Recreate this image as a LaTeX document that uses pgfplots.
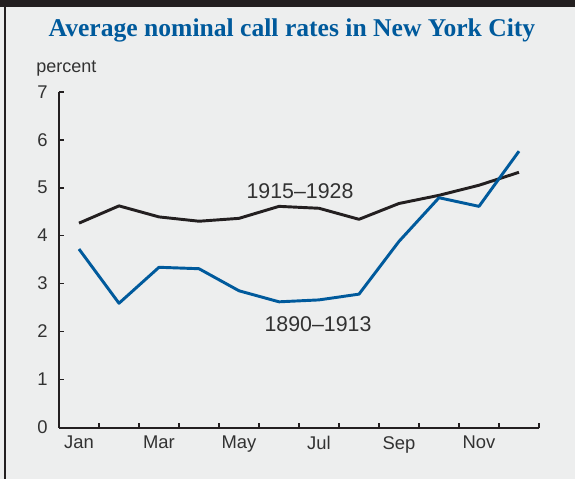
\documentclass[border=0pt]{standalone}
\usepackage{pgfplots}
\pgfplotsset{compat=1.18}
\usepackage{fontspec}
\setmainfont{Liberation Sans}
\newfontfamily\titlefont{Liberation Serif}
\definecolor{bg}{RGB}{237,238,238}
\definecolor{fedblue}{RGB}{0,90,156}
\definecolor{ink}{RGB}{35,31,32}
\definecolor{txt}{RGB}{50,50,50}
\begin{document}
\begin{tikzpicture}[x=1pt,y=1pt]
\fill[bg] (0,0) rectangle (431.25,359.25);
\useasboundingbox (0,0) rectangle (431.25,359.25);
\fill[ink] (0,354.2) rectangle (431.25,359.25);
\fill[ink] (2.8,0) rectangle (4.6,359.25);
\node[font=\titlefont\bfseries\fontsize{19.2}{23}\selectfont, text=fedblue, anchor=base] at (219,331.5) {Average nominal call rates in New York City};
\node[anchor=west, inner sep=0pt, font=\fontsize{13.5}{16}\selectfont, text=txt] at (27,308) {percent};
\begin{axis}[
  at={(44.25pt,38.625pt)}, anchor=south west,
  scale only axis, width=360pt, height=251.85pt,
  xmin=0.5, xmax=12.5, ymin=0, ymax=7,
  axis x line*=bottom, axis y line*=left,
  axis line style={ink, line width=1.5pt, -},
  tick style={ink, line width=1.3pt},
  tick align=inside, major tick length=3.75pt,
  ytick={0,...,7},
  xtick={1.5,2.5,...,12.5}, xticklabels={},
  extra x ticks={1,3,5,7,9,11},
  extra x tick labels={Jan,Mar,May,Jul,Sep,Nov},
  extra x tick style={major tick length=0pt},
  ticklabel style={font=\fontsize{13.8}{16}\selectfont, text=txt},
  yticklabel style={xshift=-5pt},
  xticklabel style={yshift=-3pt},
  /pgf/number format/assume math mode=true,
  clip=false,
]
\addplot[ink, line width=2.2pt, line join=round] coordinates {
(1,4.26) (2,4.62) (3,4.39) (4,4.30) (5,4.36) (6,4.61) (7,4.57) (8,4.34) (9,4.67) (10,4.84) (11,5.05) (12,5.32)};
\addplot[fedblue, line width=2.2pt, line join=round] coordinates {
(1,3.72) (2,2.59) (3,3.34) (4,3.31) (5,2.85) (6,2.62) (7,2.66) (8,2.78) (9,3.88) (10,4.79) (11,4.61) (12,5.76)};
\node[font=\fontsize{16}{19}\selectfont, text=txt] at (axis cs:6.525,4.93) {1915--1928};
\node[font=\fontsize{16}{19}\selectfont, text=txt] at (axis cs:6.975,2.16) {1890--1913};
\end{axis}
\end{tikzpicture}
\end{document}
